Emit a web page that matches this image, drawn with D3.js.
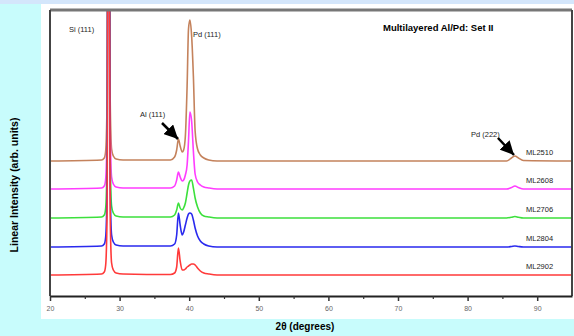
<!DOCTYPE html>
<html>
<head>
<meta charset="utf-8">
<script src="https://cdn.jsdelivr.net/npm/d3@7"></script>
<style>
  body { margin: 0; background: #c8fcfc; }
  svg { display: block; font-family: "Liberation Sans", Arial, sans-serif; }
</style>
</head>
<body>
<svg id="chart" width="574" height="336"></svg>
<script>
// 2-theta sample points shared by all scans
const twoTheta = [20, 27.4, 27.8, 28.0, 28.2, 28.35, 28.5, 28.65, 28.85, 29.1, 29.5, 30.5,
  37.3, 37.9, 38.2, 38.45, 38.7, 39.0, 39.2, 39.45, 39.7, 39.9, 40.1, 40.35, 40.6, 40.85,
  41.2, 41.6, 42.1, 42.8, 44, 85.6, 86.3, 86.8, 87.3, 88, 95];

const samples = ["ML2510", "ML2608", "ML2706", "ML2804", "ML2902"];
const offsets = [135, 107, 78, 49, 21];

// intensities above each scan's own baseline (arb. units)
const ml2510 = [0, 1, 3, 10, 60, 420, 420, 60, 12, 5, 2, 1,
  1, 4, 11, 22, 15, 9, 11, 25, 75, 132, 141, 125, 85, 30,
  12, 6, 3, 1, 0, 0, 3, 5, 3, 0.5, 0];
const ml2608 = [0, 1, 3, 10, 60, 420, 420, 60, 12, 5, 2, 1,
  1, 3, 9, 17, 12, 8, 9, 14, 24, 48, 77, 68, 38, 15,
  7, 4, 2, 1, 0, 0, 1.5, 3, 1.5, 0, 0];
const ml2706 = [0, 1, 3, 10, 60, 420, 420, 60, 12, 5, 2, 1,
  1, 3, 8, 15, 10, 8, 10, 15, 25, 33, 37, 38, 30, 20,
  11, 5, 2, 1, 0, 0, 0.8, 1.5, 0.8, 0, 0];
const ml2804 = [0, 1, 3, 10, 60, 420, 420, 60, 12, 5, 2, 1,
  1, 3, 12, 34, 22, 12, 15, 22, 29, 33, 34, 33, 27, 19,
  11, 6, 3, 1, 0, 0, 0.5, 1, 0.5, 0, 0];
const ml2902 = [0, 1, 3, 10, 60, 420, 420, 60, 12, 5, 2, 1,
  0.5, 2, 8, 27, 14, 5, 5, 6, 8, 9, 10, 11, 11, 10,
  7, 4, 2, 1, 0, 0, 0, 0, 0, 0, 0];

const scans = [ml2510, ml2608, ml2706, ml2804, ml2902];
const colors = ["#c4825c", "#ff3cff", "#3ce03c", "#2a2aee", "#ff3a3a"];

const majorTicks = [20, 30, 40, 50, 60, 70, 80, 90];
const minorTicks = [25, 35, 45, 55, 65, 75, 85];

const svg = d3.select("#chart");
const plotLeft = 50, plotRight = 572, plotTop = 10, plotBottom = 296;

// panel
svg.append("rect").attr("x", 0).attr("y", 0).attr("width", 574).attr("height", 4).attr("fill", "#d4e6fb");
svg.append("rect").attr("x", 41).attr("y", 4).attr("width", 533).attr("height", 315).attr("fill", "#fff");

const x = d3.scaleLinear().domain([20, 95]).range([plotLeft, plotRight]);
const y = d3.scaleLinear().domain([0, 286]).range([plotBottom, plotTop]);

svg.append("clipPath").attr("id", "plot")
  .append("rect").attr("x", plotLeft).attr("y", plotTop)
  .attr("width", plotRight - plotLeft).attr("height", plotBottom - plotTop);

const line = d3.line().curve(d3.curveMonotoneX);

svg.append("g").attr("clip-path", "url(#plot)")
  .selectAll("path")
  .data(scans)
  .join("path")
  .attr("fill", "none")
  .attr("stroke", (d, i) => colors[i])
  .attr("stroke-width", 1.6)
  .attr("d", (d, i) => line(d.map((v, j) => [x(twoTheta[j]), y(v + offsets[i])])));

// frame
svg.append("line").attr("x1", plotLeft).attr("x2", plotRight).attr("y1", plotTop).attr("y2", plotTop)
  .attr("stroke", "#777").attr("stroke-width", 3);
svg.append("line").attr("x1", plotLeft).attr("x2", plotLeft).attr("y1", plotTop).attr("y2", plotBottom)
  .attr("stroke", "#444").attr("stroke-width", 2);
svg.append("line").attr("x1", plotRight).attr("x2", plotRight).attr("y1", plotTop).attr("y2", plotBottom)
  .attr("stroke", "#444").attr("stroke-width", 2);

// x axis
const ax = svg.append("g").attr("transform", "translate(0," + plotBottom + ")")
  .call(d3.axisBottom(x).tickValues(majorTicks).tickSize(5).tickSizeOuter(0).tickPadding(5));
ax.select(".domain").attr("stroke", "#222").attr("stroke-width", 2);
ax.selectAll(".tick line").attr("stroke", "#333").attr("stroke-width", 1.5);
ax.selectAll(".tick text").attr("font-size", 7).attr("fill", "#666");
svg.append("g").attr("transform", "translate(0," + plotBottom + ")")
  .call(d3.axisBottom(x).tickValues(minorTicks).tickSize(3).tickFormat(""))
  .call(g => g.select(".domain").remove())
  .selectAll(".tick line").attr("stroke", "#333").attr("stroke-width", 1.2);

// axis titles
svg.append("text").attr("x", 305).attr("y", 330).attr("text-anchor", "middle")
  .attr("font-size", 10).attr("font-weight", "bold").text("2θ (degrees)");
svg.append("text").attr("transform", "translate(18,185) rotate(-90)").attr("text-anchor", "middle")
  .attr("font-size", 10.5).attr("font-weight", "bold").text("Linear Intensity (arb. units)");

svg.append("text").attr("x", 383).attr("y", 31).attr("font-size", 9.5).attr("font-weight", "bold")
  .text("Multilayered Al/Pd: Set II");

// sample labels
svg.append("g").selectAll("text")
  .data(samples)
  .join("text")
  .attr("x", 526)
  .attr("y", (d, i) => y(offsets[i]) - 6)
  .attr("font-size", 7.5)
  .attr("fill", "#222")
  .text(d => d);

// peak labels
const peaks = [
  {name: "Si (111)", tx: 69, ty: 32},
  {name: "Pd (111)", tx: 193, ty: 37},
  {name: "Al (111)", tx: 140, ty: 117},
  {name: "Pd (222)", tx: 471, ty: 137}
];
svg.append("g").selectAll("text")
  .data(peaks)
  .join("text")
  .attr("x", d => d.tx)
  .attr("y", d => d.ty)
  .attr("font-size", 7.5)
  .attr("fill", "#222")
  .text(d => d.name);

// arrows
const defs = svg.append("defs");
defs.append("marker").attr("id", "head").attr("viewBox", "0 0 10 10")
  .attr("refX", 10).attr("refY", 5).attr("markerWidth", 5.5).attr("markerHeight", 5.5)
  .attr("markerUnits", "strokeWidth").attr("orient", "auto")
  .append("path").attr("d", "M0,0L10,5L0,10Z").attr("fill", "#000");

const arrows = [
  {x1: 162, y1: 123, x2: 178, y2: 139},
  {x1: 498, y1: 138, x2: 514, y2: 155}
];
svg.append("g").selectAll("line")
  .data(arrows)
  .join("line")
  .attr("x1", d => d.x1).attr("y1", d => d.y1)
  .attr("x2", d => d.x2).attr("y2", d => d.y2)
  .attr("stroke", "#000").attr("stroke-width", 2.5)
  .attr("marker-end", "url(#head)");
</script>
</body>
</html>
